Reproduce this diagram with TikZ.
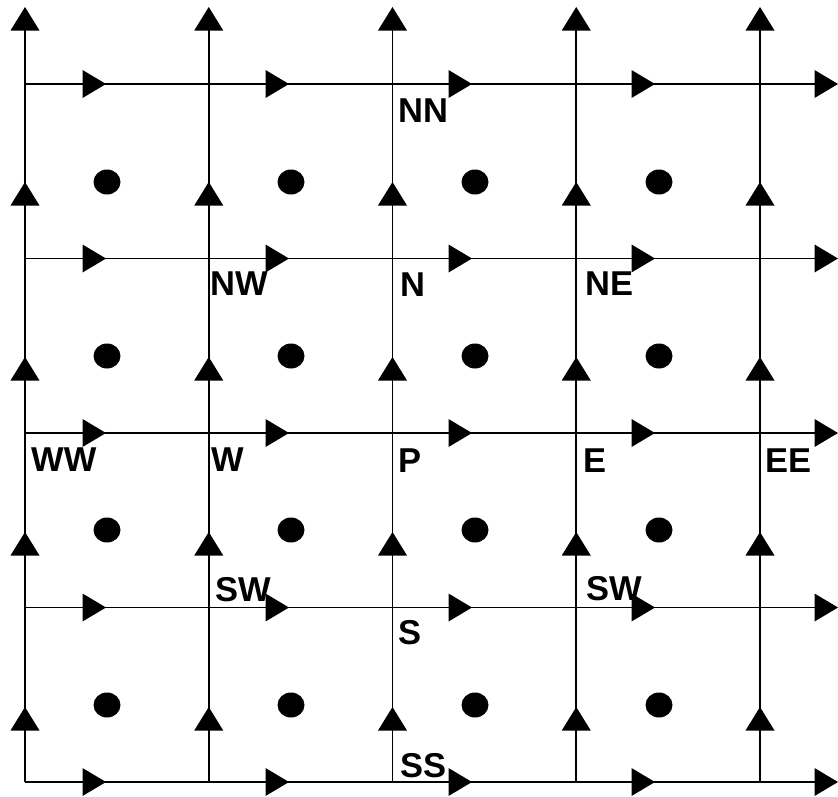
\documentclass[tikz,border=0pt]{standalone}
\usepackage{fontspec}
\setmainfont{Liberation Sans}
\begin{document}
\begin{tikzpicture}[x=1pt,y=-1pt,
  gridline/.style={line width=1.7pt, black},
  lbl/.style={anchor=base west, inner sep=0pt, text=black, font=\fontsize{34.5}{40}\selectfont\bfseries}]
\fill[white] (0,0) rectangle (838,796);
\useasboundingbox (0,0) rectangle (838,796);
% grid lines
\foreach \i in {0,...,4} {
  \pgfmathsetmacro\X{25+183.75*\i}
  \pgfmathsetmacro\Y{84+174.5*\i}
  \draw[gridline] (\X,30) -- (\X,782);
  \draw[gridline] (25,\Y) -- (837,\Y);
}
% arrow heads
\foreach \i in {0,...,4} {
  \pgfmathsetmacro\X{25+183.75*\i}
  \pgfmathsetmacro\Y{84+174.5*\i}
  \foreach \k in {0,...,4} {
    \pgfmathsetmacro\A{7+175*\k}
    \fill[black] (\X,\A) -- (\X+14.5,\A+23.5) -- (\X-14.5,\A+23.5) -- cycle;
    \pgfmathsetmacro\B{106+183*\k}
    \fill[black] (\B,\Y) -- (\B-23.5,\Y-14) -- (\B-23.5,\Y+14) -- cycle;
  }
}
% dots
\foreach \x in {107,291,475,659} {
  \foreach \y in {182,356,530,705} {
    \fill[black] (\x,\y) ellipse [x radius=13.5pt, y radius=12.5pt];
  }
}
% labels
\node[lbl] (NN) at (398,122) {NN};
\node[lbl] (NW) at (210,295) {NW};
\node[lbl] (N)  at (400,296) {N};
\node[lbl] (NE) at (585,295) {NE};
\node[lbl] (WW) at (31,471) {WW};
\node[lbl] (W)  at (211,471) {W};
\node[lbl] (P)  at (398,472) {P};
\node[lbl] (E)  at (583,472) {E};
\node[lbl] (EE) at (765,472) {EE};
\node[lbl] (SW1) at (215,601) {SW};
\node[lbl] (SW2) at (586,600) {SW};
\node[lbl] (S)  at (398,644) {S};
\node[lbl] (SS) at (400,777) {SS};
\end{tikzpicture}
\end{document}
